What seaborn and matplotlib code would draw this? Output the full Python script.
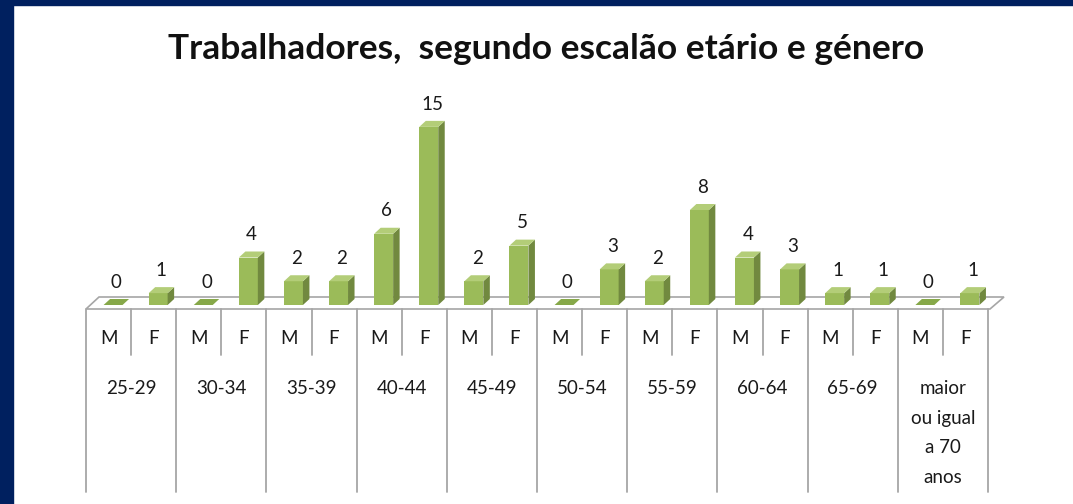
import pandas as pd
import numpy as np
import matplotlib.pyplot as plt
import seaborn as sns
from matplotlib.patches import Polygon, Rectangle

# data
ages = ["25-29", "30-34", "35-39", "40-44", "45-49", "50-54", "55-59",
        "60-64", "65-69", "maior\nou igual\na 70\nanos"]
sexes = ["M", "F"]
male = [0, 0, 2, 6, 2, 0, 2, 4, 1, 0]
female = [1, 4, 2, 15, 5, 3, 8, 3, 1, 1]
title = "Trabalhadores,  segundo escalão etário e género"

rows = []
for a, m, f in zip(ages, male, female):
    rows.append({"slot": a + " M", "age": a, "sex": "M", "n": m})
    rows.append({"slot": a + " F", "age": a, "sex": "F", "n": f})
df = pd.DataFrame(rows)

sns.set_style("white")
plt.rcParams['font.family'] = ['Lato', 'DejaVu Sans']

W, H = 1073, 504
fig = plt.figure(figsize=(W / 100, H / 100), dpi=100, facecolor="white")
navy = "#00205F"
fig.patches.append(Rectangle((0, 0), 13 / W, 1, transform=fig.transFigure, color=navy, zorder=0))
fig.patches.append(Rectangle((0, 1 - 5 / H), 1, 5 / H, transform=fig.transFigure, color=navy, zorder=0))

# axes: baseline at y=305px, top (16) at y=115px
base_px, top_px = 305, 115
ax = fig.add_axes([86 / W, (H - base_px) / H, 902 / W, (base_px - top_px) / H])
ax.set_facecolor("none")

front = "#9BBB59"
side = "#71893F"
topc = "#B3CD78"
grid = "#A6A6A6"
txt = "#1A1A1A"

sns.barplot(data=df, x="slot", y="n", order=list(df["slot"]), color=front,
            width=0.42, saturation=1, ax=ax, zorder=3)
ax.set_xlim(-0.5, len(df) - 0.5)
ax.set_ylim(0, 16)

px_x = 902 / len(df)
px_y = (base_px - top_px) / 16
dx = 6.5 / px_x
dy = 6 / px_y

# floor of the 3d plot
fy0 = -4 / px_y
fy1 = 8 / px_y
floor = Polygon([(-0.5, fy0), (len(df) - 0.5 + 2 / px_x, fy0),
                 (len(df) - 0.5 + 16 / px_x, fy1), (-0.5 + 13 / px_x, fy1)],
                closed=True, facecolor="white", edgecolor=grid, lw=1.2,
                clip_on=False, zorder=1)
ax.add_patch(floor)

for p in ax.patches[:len(df)]:
    p.set_x(p.get_x() + 0.1)
    p.set_edgecolor("none")
    x0, w, h = p.get_x(), p.get_width(), p.get_height()
    ax.add_patch(Polygon([(x0 + w, 0), (x0 + w + dx, dy), (x0 + w + dx, h + dy), (x0 + w, h)],
                         closed=True, color=side, lw=0, zorder=3, clip_on=False))
    ax.add_patch(Polygon([(x0, h), (x0 + dx, h + dy), (x0 + w + dx, h + dy), (x0 + w, h)],
                         closed=True, color=topc if h > 0 else "#86A849", lw=0, zorder=3,
                         clip_on=False))
    ax.annotate(f"{int(h)}", (x0 + w / 2 + dx / 2, h + dy), xytext=(0, 6),
                textcoords="offset points", ha="center", va="bottom",
                fontsize=13.5, color=txt, annotation_clip=False)

# table under the floor
tr = ax.get_xaxis_transform()
def yf(px):
    return (base_px - px) / (base_px - top_px)

for k in range(len(ages) + 1):
    ax.plot([2 * k - 0.5] * 2, [yf(309), yf(492)], color=grid, lw=1.3,
            transform=tr, clip_on=False)
for k in range(len(ages)):
    ax.plot([2 * k + 0.5] * 2, [yf(309), yf(355)], color=grid, lw=1.3,
            transform=tr, clip_on=False)
    for j, s in enumerate(sexes):
        ax.text(2 * k + j, yf(339), s, transform=tr, ha="center", va="center",
                fontsize=13.5, color=txt)
    ax.text(2 * k + 0.5, yf(380), ages[k], transform=tr, ha="center", va="top",
            fontsize=13.5, color=txt, linespacing=1.9)

ax.set_xticks([])
ax.set_yticks([])
ax.set_xlabel("")
ax.set_ylabel("")
sns.despine(ax=ax, left=True, bottom=True)

fig.text(546 / W, 1 - 49 / H, title, ha="center", va="center",
         fontsize=25.5, fontweight="bold", color="#111111")

fig.savefig("out.png", dpi=100, facecolor=fig.get_facecolor())
